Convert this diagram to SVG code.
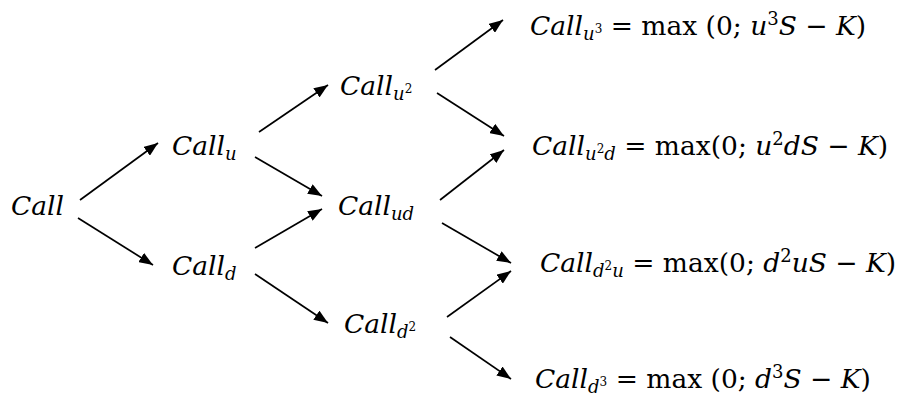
<svg xmlns="http://www.w3.org/2000/svg" width="900" height="401" viewBox="0 0 900 401">
<defs>
<marker id="ah" viewBox="0 0 14 11" refX="14" refY="5.5" markerWidth="14" markerHeight="11" markerUnits="userSpaceOnUse" orient="auto">
<path d="M0,0 L14,5.5 L0,11 Z" fill="#000"/>
</marker>
<style>
.t{font-family:"DejaVu Serif","Liberation Serif",serif;font-size:26.5px;fill:#000}
.i{font-style:italic}
.s{font-size:18px}
.ss{font-size:12px}
.c line{stroke:#000;stroke-width:1.7;marker-end:url(#ah)}
</style>
</defs>
<rect width="900" height="401" fill="#fff"/>
<g id="n0"><text class="t i" x="11" y="215">Call</text></g>
<g id="nu"><text class="t i" x="172" y="155">Call<tspan class="s" dy="5">u</tspan></text></g>
<g id="nd"><text class="t i" x="172" y="275">Call<tspan class="s" dy="5">d</tspan></text></g>
<g id="nuu"><text class="t i" x="340" y="95">Call<tspan class="s" dy="5">u</tspan><tspan class="ss" style="font-style:normal" dy="-7">2</tspan></text></g>
<g id="nud"><text class="t i" x="338" y="215">Call<tspan class="s" dy="5">ud</tspan></text></g>
<g id="ndd"><text class="t i" x="344" y="333">Call<tspan class="s" dy="5">d</tspan><tspan class="ss" style="font-style:normal" dy="-7">2</tspan></text></g>
<g id="nuuu"><text class="t" x="530" y="35"><tspan class="i">Call</tspan><tspan class="s i" dy="5">u</tspan><tspan class="ss" dy="-7">3</tspan><tspan dy="2"> = max (0; </tspan><tspan class="i">u</tspan><tspan class="s" dy="-10">3</tspan><tspan class="i" dy="10">S</tspan><tspan> − </tspan><tspan class="i">K</tspan><tspan>)</tspan></text></g>
<g id="nuud"><text class="t" x="532" y="155"><tspan class="i">Call</tspan><tspan class="s i" dy="5">u</tspan><tspan class="ss" dy="-7">2</tspan><tspan class="s i" dy="7">d</tspan><tspan dy="-5"> = max(0; </tspan><tspan class="i">u</tspan><tspan class="s" dy="-10">2</tspan><tspan class="i" dy="10">dS</tspan><tspan> − </tspan><tspan class="i">K</tspan><tspan>)</tspan></text></g>
<g id="nddu"><text class="t" x="540" y="272"><tspan class="i">Call</tspan><tspan class="s i" dy="5">d</tspan><tspan class="ss" dy="-7">2</tspan><tspan class="s i" dy="7">u</tspan><tspan dy="-5"> = max(0; </tspan><tspan class="i">d</tspan><tspan class="s" dy="-10">2</tspan><tspan class="i" dy="10">uS</tspan><tspan> − </tspan><tspan class="i">K</tspan><tspan>)</tspan></text></g>
<g id="nddd"><text class="t" x="535" y="388"><tspan class="i">Call</tspan><tspan class="s i" dy="5">d</tspan><tspan class="ss" dy="-7">3</tspan><tspan dy="2"> = max (0; </tspan><tspan class="i">d</tspan><tspan class="s" dy="-10">3</tspan><tspan class="i" dy="10">S</tspan><tspan> − </tspan><tspan class="i">K</tspan><tspan>)</tspan></text></g>
<g id="connectors" class="c">
<line x1="80" y1="200" x2="158" y2="143"/>
<line x1="78" y1="218" x2="153" y2="265"/>
<line x1="259" y1="132" x2="328" y2="85"/>
<line x1="255" y1="157" x2="322" y2="196"/>
<line x1="255" y1="248" x2="322" y2="209"/>
<line x1="255" y1="274" x2="328" y2="323"/>
<line x1="435" y1="70" x2="503" y2="20"/>
<line x1="437" y1="93" x2="504" y2="136"/>
<line x1="440" y1="200" x2="504" y2="150"/>
<line x1="442" y1="223" x2="511" y2="263"/>
<line x1="447" y1="317" x2="511" y2="271"/>
<line x1="450" y1="337" x2="511" y2="379"/>
</g>
</svg>
